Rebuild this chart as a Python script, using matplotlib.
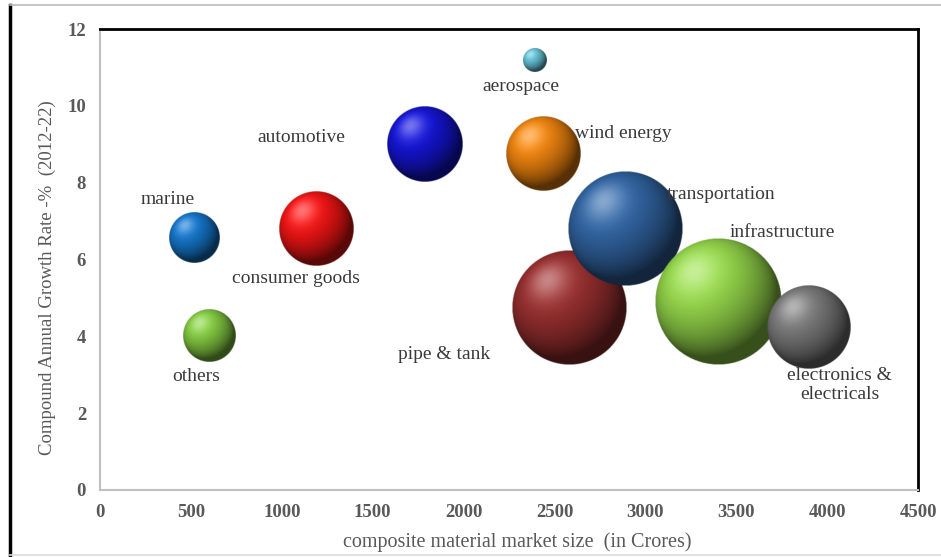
import numpy as np
import matplotlib
matplotlib.use('Agg')
import matplotlib.pyplot as plt
from matplotlib.colors import to_rgb
from matplotlib.lines import Line2D

# Chart data
sectors = ['aerospace', 'automotive', 'wind energy', 'marine', 'consumer goods',
           'transportation', 'pipe & tank', 'infrastructure',
           'electronics &\nelectricals', 'others']
marketSize = [2390, 1790, 2435, 515, 1190, 2890, 2580, 3400, 3900, 600]
growthRate = [11.2, 9.0, 8.75, 6.55, 6.8, 6.8, 4.75, 4.9, 4.25, 4.0]
bubbleWeight = [1.4, 14.4, 13.7, 6.3, 13.7, 32.5, 32.5, 39.7, 17.6, 6.8]

# Styling
COLORS = ['#62bcd0', '#1414d0', '#e8800e', '#1472c4', '#ec1414',
          '#30629e', '#942e2e', '#90d048', '#767676', '#80c440']
LABEL_OFFSETS = [(-10, -19, 'center'), (-89, 5, 'center'), (23, 15, 'left'),
                 (-19, 28, 'center'), (-15, -36, 'center'), (30, 25, 'left'),
                 (-90, -34, 'center'), (46, 50, 'center'), (22, -42, 'center'),
                 (-9, -29, 'center')]
DRAW_ORDER = [0, 1, 2, 3, 4, 9, 6, 5, 7, 8]
SERIF = ['Liberation Serif', 'DejaVu Serif']
TICK_COLOR = '#595959'
XMAX, YMAX = 4500, 12
AX_W_PX, AX_H_PX = 818, 461

plt.rcParams['font.family'] = SERIF

fig = plt.figure(figsize=(9.41, 5.57), dpi=100)
ax = fig.add_axes([100 / 941, 1 - 490 / 557, AX_W_PX / 941, AX_H_PX / 557])


def sphereImage(color, n=220):
    # shaded ball as RGBA image, lit from the upper left
    u = np.linspace(-1, 1, n)
    xx, yy = np.meshgrid(u, -u)
    rr = np.sqrt(xx ** 2 + yy ** 2)
    zz = np.sqrt(np.clip(1 - rr ** 2, 0, 1))
    light = np.array([-0.38, 0.48, 0.79])
    light = light / np.linalg.norm(light)
    diff = np.clip(xx * light[0] + yy * light[1] + zz * light[2], 0, 1)
    base = np.array(to_rgb(color))
    shade = 0.38 + 0.72 * diff
    rgb = base[None, None, :] * shade[..., None]
    spec = (diff ** 16) * 0.40
    rgb = rgb * (1 - spec[..., None]) + spec[..., None]
    rgb = np.clip(rgb, 0, 1)
    edge = 1.5 / n
    alpha = np.clip((1 - rr) / edge, 0, 1)
    return np.dstack([rgb, alpha])


for k, idx in enumerate(DRAW_ORDER):
    rPx = 10 * np.sqrt(bubbleWeight[idx])
    rx = rPx * XMAX / AX_W_PX
    ry = rPx * YMAX / AX_H_PX
    x, y = marketSize[idx], growthRate[idx]
    ax.imshow(sphereImage(COLORS[idx]), extent=(x - rx, x + rx, y - ry, y + ry),
              aspect='auto', interpolation='bilinear', zorder=2 + k)

for i, name in enumerate(sectors):
    dx, dy, ha = LABEL_OFFSETS[i]
    ax.annotate(name, (marketSize[i], growthRate[i]), xytext=(dx, dy),
                textcoords='offset points', ha=ha, va='center',
                fontsize=14, color='#3a3a3a', zorder=50, linespacing=1.2)

ax.set_xlim(0, XMAX)
ax.set_ylim(0, YMAX)
ax.set_xticks(np.arange(0, XMAX + 1, 500))
ax.set_yticks(np.arange(0, YMAX + 1, 2))
ax.tick_params(length=0, labelsize=13.5, labelcolor=TICK_COLOR, pad=10)
for lbl in ax.get_xticklabels() + ax.get_yticklabels():
    lbl.set_fontweight('bold')

ax.spines['top'].set_color('black')
ax.spines['right'].set_color('black')
ax.spines['top'].set_linewidth(2)
ax.spines['right'].set_linewidth(2)
ax.spines['left'].set_color('#bfbfbf')
ax.spines['bottom'].set_color('#bfbfbf')
ax.spines['left'].set_linewidth(1.5)
ax.spines['bottom'].set_linewidth(1.5)

ax.set_xlabel('composite material market size  (in Crores)', fontsize=14.5,
              color=TICK_COLOR)
ax.set_ylabel('Compound Annual Growth Rate -%  (2012-22)', fontsize=13.5,
              color=TICK_COLOR)
ax.xaxis.set_label_coords(0.51, -0.092)
ax.yaxis.set_label_coords(-0.054, 0.46)

# outer frame of the figure
fig.add_artist(Line2D([10 / 941, 10 / 941], [2 / 557, 1 - 5 / 557],
                      transform=fig.transFigure, color='black', lw=2.5))
fig.add_artist(Line2D([10 / 941, 1], [1 - 5 / 557, 1 - 5 / 557],
                      transform=fig.transFigure, color='#bbbbbb', lw=1.2))
fig.add_artist(Line2D([10 / 941, 1], [2 / 557, 2 / 557],
                      transform=fig.transFigure, color='#dddddd', lw=1.2))

fig.savefig('out.png', dpi=100)
